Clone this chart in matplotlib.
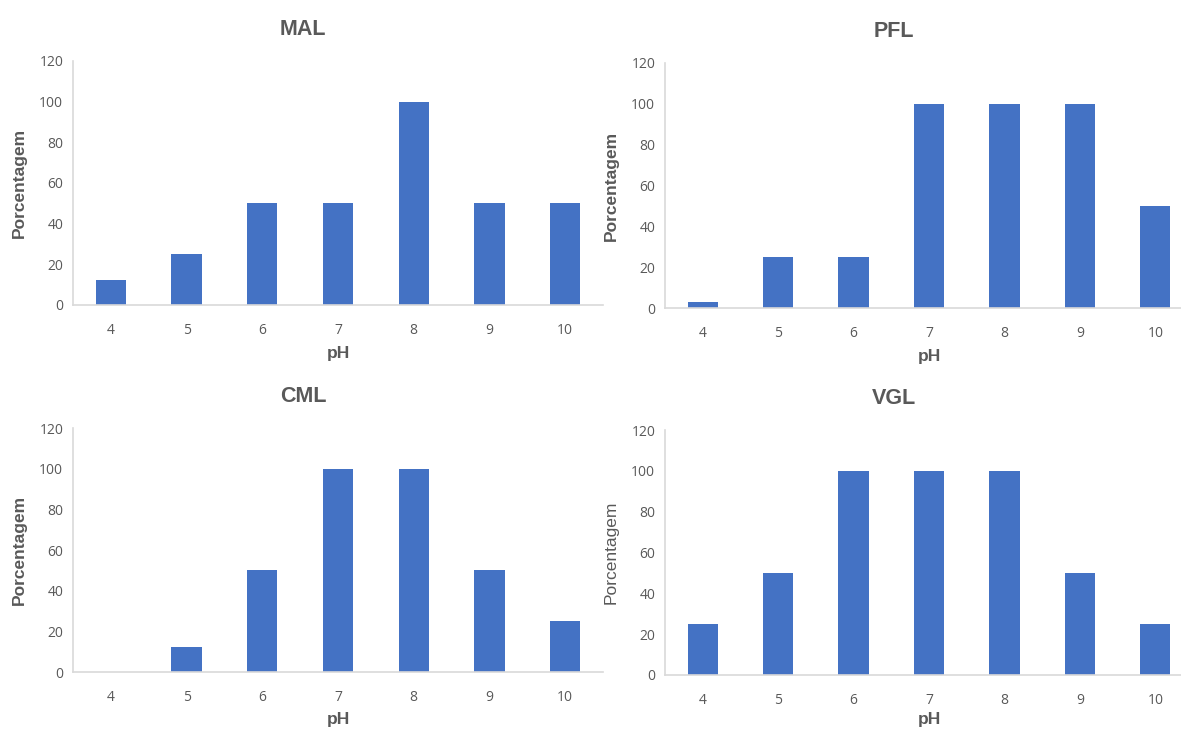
import matplotlib
matplotlib.use("Agg")
import matplotlib.pyplot as plt

# pH tested and percentage per strain
ph = ["4", "5", "6", "7", "8", "9", "10"]
mal = [12.5, 25, 50, 50, 100, 50, 50]
pfl = [3, 25, 25, 100, 100, 100, 50]
cml = [0, 12.5, 50, 100, 100, 50, 25]
vgl = [25, 50, 100, 100, 100, 50, 25]

BAR = "#4472C4"
TXT = "#595959"
AXIS = "#D9D9D9"

W, H = 1181, 729
plt.rcParams["font.family"] = ["Liberation Sans", "DejaVu Sans"]

fig = plt.figure(figsize=(W / 100, H / 100), dpi=100)


def px_axes(left, top, bottom, right):
    # axes rectangle given in pixel coords (origin top-left)
    return fig.add_axes([left / W, 1 - bottom / H, (right - left) / W, (bottom - top) / H])


def panel(ax, vals, title, bold_y=True, xpad=6):
    x = range(len(ph))
    ax.bar(x, vals, width=0.4, color=BAR, zorder=2)
    ax.set_xlim(-0.5, len(ph) - 0.5)
    ax.set_ylim(0, 120)
    ax.set_yticks(range(0, 121, 20))
    ax.set_xticks(list(x))
    ax.set_xticklabels(ph)
    for s in ("top", "right"):
        ax.spines[s].set_visible(False)
    for s in ("left", "bottom"):
        ax.spines[s].set_color(AXIS)
        ax.spines[s].set_linewidth(1.2)
    ax.tick_params(axis="both", length=0, colors=TXT, labelsize=10)
    ax.tick_params(axis="x", pad=13)
    ax.tick_params(axis="y", pad=7)
    for lab in ax.get_xticklabels() + ax.get_yticklabels():
        lab.set_family(["Open Sans", "DejaVu Sans"])
    # chart title sits over the whole chart area (axis title included)
    ax.set_title(title, fontsize=15.5, fontweight="bold", color=TXT, pad=19, x=0.434)
    ax.set_xlabel("pH", fontsize=12.5, fontweight="bold", color=TXT, labelpad=xpad)
    ax.set_ylabel("Porcentagem", fontsize=12.5,
                  fontweight="bold" if bold_y else "normal", color=TXT, labelpad=9)
    ax.patch.set_alpha(0)


panel(px_axes(73, 61, 305, 603), mal, "MAL")
panel(px_axes(665, 63, 308, 1193), pfl, "PFL")
panel(px_axes(73, 428, 672, 603), cml, "CML", xpad=5)
panel(px_axes(665, 430, 675, 1193), vgl, "VGL", bold_y=False, xpad=3)

fig.savefig("out.png", dpi=100)
